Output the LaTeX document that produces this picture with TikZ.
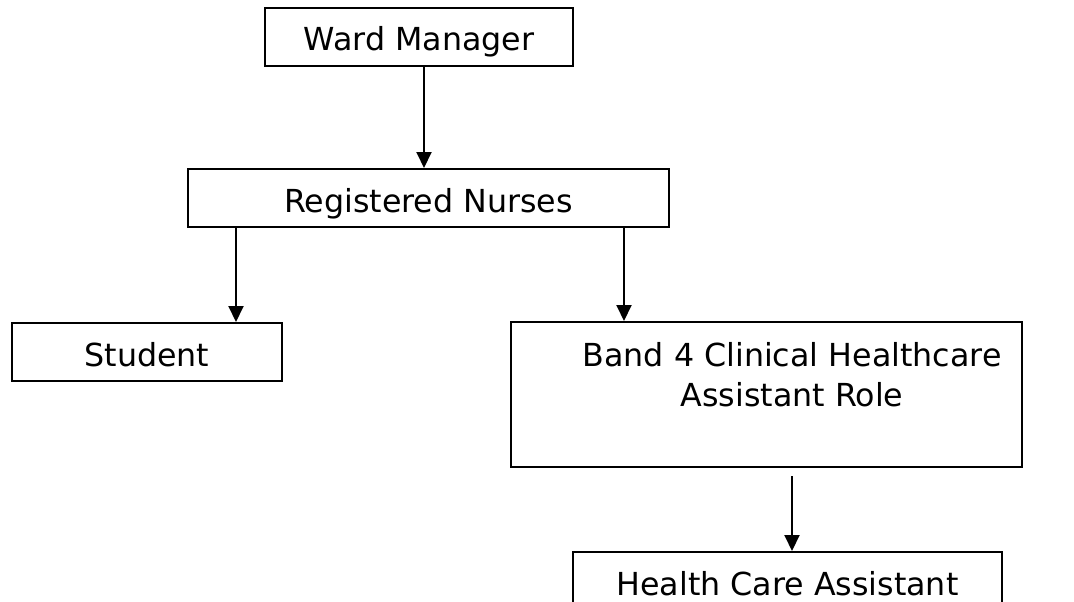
\documentclass[tikz,border=0pt]{standalone}
\usepackage{fontspec}
\setmainfont{DejaVu Sans}
\usetikzlibrary{arrows.meta}
\begin{document}
\begin{tikzpicture}[x=1pt,y=-1pt,
  box/.style={draw=black,line width=2pt,rectangle,inner sep=0pt,
    font=\fontsize{31.7}{40}\selectfont,text height=28pt,text depth=0pt},
  lbl/.style={inner sep=0pt,font=\fontsize{31.7}{40}\selectfont},
  arr/.style={line width=2pt,-{Triangle[length=16pt,width=15pt]}}]
\clip (0,0) rectangle (1074,602);
\fill[white] (0,0) rectangle (1074,602);
\node[box,minimum width=308pt,minimum height=58pt] (wm) at (419,37) {Ward Manager};
\node[box,minimum width=481pt,minimum height=58pt] (rn) at (428.5,198) {Registered Nurses};
\node[box,minimum width=270pt,minimum height=58pt] (st) at (147,352) {Student};
\node[box,minimum width=511pt,minimum height=145pt] (b4) at (766.5,394.5) {};
\node[lbl,anchor=base] (b4a) at (792,366) {Band 4 Clinical Healthcare};
\node[lbl,anchor=base] (b4b) at (792,406) {Assistant Role};
\node[box,minimum width=429pt,minimum height=58pt] (hca) at (787.5,581) {Health Care Assistant};
\coordinate (x1) at (424,0);
\coordinate (x2) at (236,0);
\coordinate (x3) at (624,0);
\coordinate (c4s) at (792,476);
\draw[arr] (wm.south -| x1) -- (rn.north -| x1);
\draw[arr] (rn.south -| x2) -- (st.north -| x2);
\draw[arr] (rn.south -| x3) -- (b4.north -| x3);
\draw[arr] (c4s) -- (hca.north -| c4s);
\end{tikzpicture}
\end{document}
